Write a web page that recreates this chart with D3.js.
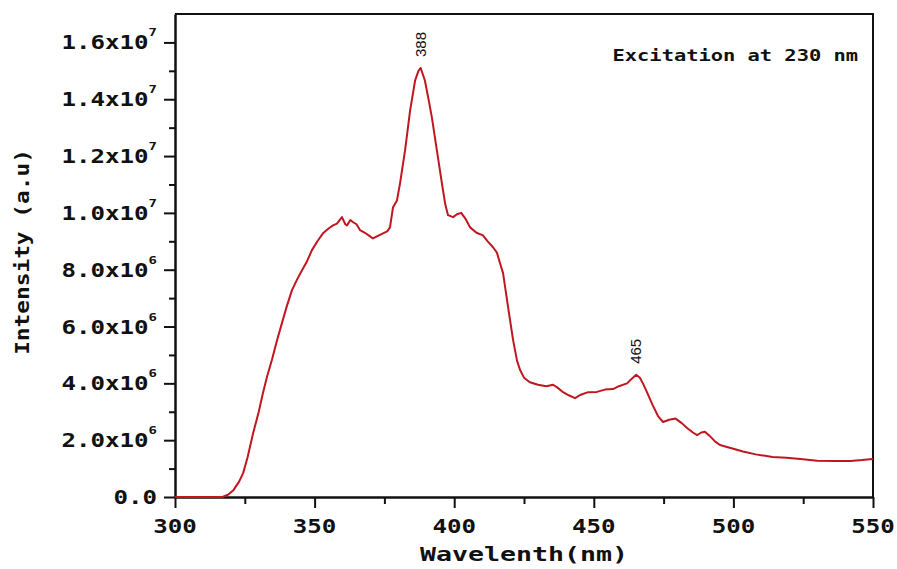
<!DOCTYPE html>
<html lang="en">
<head>
<meta charset="UTF-8">
<title>PL emission spectrum</title>
<script src="https://d3js.org/d3.v7.min.js"></script>
<style>
    body { margin: 0; background: #fff; }
    .mono { font-family: "DejaVu Sans Mono", monospace; font-weight: bold; fill: #111; }
    .peak { font-family: "Liberation Sans", Arial, sans-serif; font-size: 15px; fill: #111; }
    .axis path, .axis line { stroke: #111; }
</style>
</head>
<body>
<svg id="canvas" width="897" height="569"></svg>
<script>
// values
const wavelength = [300, 310, 317, 319, 321, 323, 324.4, 326, 328, 330, 331.5, 333, 334.7, 336.5, 338.3, 340, 341.9, 343.7, 345.5, 347.3,
    349, 351, 353, 355, 356.6, 358, 359.8, 361, 361.6, 362.8, 363.8, 365, 366.3, 368, 369.5, 370.9, 372.5, 374.5, 376, 377,
    378.1, 379.5, 380.6, 382.4, 384.2, 386, 387.2, 388, 389.5, 391, 392, 393.8, 395.6, 396.8, 397.8, 399.6, 401, 402.5, 404, 405.7,
    408, 410.3, 412, 413.9, 415.3, 416.5, 417.5, 419.3, 421.1, 422.5, 423.6, 425, 427.1, 430, 433, 435.4, 437, 439, 441, 443.3,
    445.1, 448, 451.1, 454, 456.9, 459, 461.9, 463.5, 465.2, 466.5, 467.6, 469, 471, 473, 474.8, 477, 479.3, 481.5, 483.4, 485.5,
    487, 488.5, 489.8, 491.5, 493.5, 495.2, 497.7, 500, 503.4, 508, 514, 519, 524, 530, 536, 542, 546, 550];
const intensity = [0, 0, 0, 0.08e6, 0.25e6, 0.55e6, 0.84e6, 1.4e6, 2.25e6, 3.0e6, 3.66e6, 4.25e6, 4.82e6, 5.5e6, 6.12e6, 6.7e6, 7.28e6, 7.65e6, 7.98e6, 8.3e6,
    8.68e6, 9.0e6, 9.28e6, 9.45e6, 9.56e6, 9.62e6, 9.85e6, 9.6e6, 9.56e6, 9.75e6, 9.67e6, 9.6e6, 9.39e6, 9.3e6, 9.2e6, 9.1e6, 9.18e6, 9.28e6, 9.35e6, 9.49e6,
    10.2e6, 10.44e6, 11.04e6, 12.2e6, 13.6e6, 14.66e6, 15.0e6, 15.1e6, 14.66e6, 13.9e6, 13.36e6, 12.2e6, 11.04e6, 10.3e6, 9.92e6, 9.85e6, 9.95e6, 10.0e6, 9.8e6, 9.49e6,
    9.3e6, 9.21e6, 9.0e6, 8.79e6, 8.6e6, 8.2e6, 7.88e6, 6.68e6, 5.52e6, 4.8e6, 4.47e6, 4.2e6, 4.04e6, 3.95e6, 3.9e6, 3.95e6, 3.85e6, 3.69e6, 3.58e6, 3.48e6,
    3.59e6, 3.69e6, 3.7e6, 3.78e6, 3.8e6, 3.9e6, 4.0e6, 4.15e6, 4.3e6, 4.2e6, 4.0e6, 3.7e6, 3.25e6, 2.85e6, 2.64e6, 2.72e6, 2.76e6, 2.6e6, 2.43e6, 2.27e6,
    2.18e6, 2.27e6, 2.3e6, 2.15e6, 1.95e6, 1.83e6, 1.76e6, 1.7e6, 1.6e6, 1.5e6, 1.41e6, 1.38e6, 1.34e6, 1.28e6, 1.27e6, 1.27e6, 1.3e6, 1.34e6];

const xTicks = [300, 350, 400, 450, 500, 550];
const xMinorTicks = [325, 375, 425, 475, 525];
const yTicks = [0, 2e6, 4e6, 6e6, 8e6, 1e7, 1.2e7, 1.4e7, 1.6e7];
const yMinorTicks = [1e6, 3e6, 5e6, 7e6, 9e6, 1.1e7, 1.3e7, 1.5e7];
const yTickBase = ["0.0", "2.0x10", "4.0x10", "6.0x10", "8.0x10", "1.0x10", "1.2x10", "1.4x10", "1.6x10"];
const yTickExp = ["", "6", "6", "6", "6", "7", "7", "7", "7"];
const peaks = [388, 465];
const note = "Excitation at 230 nm";
const xTitle = "Wavelenth(nm)";
const yTitle = "Intensity (a.u)";

let svg = d3.select("#canvas");
let mLeft = 175, mRight = 873, mTop = 14, mBottom = 497;

let xscale = d3.scaleLinear().domain([300, 550]).range([mLeft, mRight]);
let yscale = d3.scaleLinear().domain([0, 1.7e7]).range([mBottom, mTop]);

// frame (top and right sides)
svg.append("path")
    .attr("d", `M${mLeft},${mTop}H${mRight}V${mBottom}`)
    .attr("fill", "none").attr("stroke", "#111").attr("stroke-width", 2);

// minor ticks
svg.append("g").attr("class", "axis").attr("transform", `translate(0,${mBottom})`)
    .call(d3.axisBottom(xscale).tickValues(xMinorTicks).tickSize(7).tickFormat(""))
    .call(g => g.select(".domain").remove())
    .selectAll("line").attr("stroke-width", 2);
svg.append("g").attr("class", "axis").attr("transform", `translate(${mLeft},0)`)
    .call(d3.axisLeft(yscale).tickValues(yMinorTicks).tickSize(6).tickFormat(""))
    .call(g => g.select(".domain").remove())
    .selectAll("line").attr("stroke-width", 2);

// major ticks + axis lines
let xAxis = svg.append("g").attr("class", "axis").attr("transform", `translate(0,${mBottom})`)
    .call(d3.axisBottom(xscale).tickValues(xTicks).tickSize(11).tickSizeOuter(0).tickFormat(""));
let yAxis = svg.append("g").attr("class", "axis").attr("transform", `translate(${mLeft},0)`)
    .call(d3.axisLeft(yscale).tickValues(yTicks).tickSize(11).tickSizeOuter(0).tickFormat(""));
xAxis.selectAll("line").attr("stroke-width", 2);
yAxis.selectAll("line").attr("stroke-width", 2);
xAxis.select(".domain").attr("stroke-width", 2.5);
yAxis.select(".domain").attr("stroke-width", 2.5);

// x tick labels
svg.append("g").selectAll("text")
    .data(xTicks).enter().append("text")
    .attr("class", "mono").attr("font-size", 19)
    .attr("text-anchor", "middle")
    .attr("transform", d => `translate(${xscale(d)},${mBottom + 36}) scale(1.27,1)`)
    .text(d => d);

// y tick labels with superscript exponent
let ylab = svg.append("g").selectAll("text")
    .data(yTicks).enter().append("text")
    .attr("class", "mono").attr("font-size", 19)
    .attr("text-anchor", "end")
    .attr("transform", d => `translate(157,${yscale(d) + 7}) scale(1.27,1)`);
ylab.append("tspan").text((d, i) => yTickBase[i]);
ylab.append("tspan").attr("font-size", 11).attr("dy", -13).text((d, i) => yTickExp[i]);

// spectrum
let pts = wavelength.map((w, i) => ({x: w, y: intensity[i]}));
let line = d3.line().x(d => xscale(d.x)).y(d => yscale(d.y));
svg.append("path")
    .datum(pts)
    .attr("d", line)
    .attr("fill", "none")
    .attr("stroke", "#c0161f")
    .attr("stroke-width", 2)
    .attr("stroke-linejoin", "round");

// peak labels
peaks.forEach(p => {
    let near = pts.filter(d => Math.abs(d.x - p) <= 1.5);
    let yMax = d3.max(near, d => d.y);
    svg.append("text")
        .attr("class", "peak")
        .attr("transform", `translate(${xscale(p) + 5},${yscale(yMax) - 11}) rotate(-90)`)
        .text(p);
});

// note
svg.append("text")
    .attr("class", "mono").attr("font-size", 15)
    .attr("text-anchor", "end")
    .attr("transform", "translate(858,61) scale(1.36,1)")
    .text(note);

// axis titles
svg.append("text")
    .attr("class", "mono").attr("font-size", 19)
    .attr("text-anchor", "middle")
    .attr("transform", `translate(${(mLeft + mRight) / 2},561) scale(1.4,1)`)
    .text(xTitle);
svg.append("text")
    .attr("class", "mono").attr("font-size", 19)
    .attr("text-anchor", "middle")
    .attr("transform", "translate(29,252) rotate(-90) scale(1.2,1)")
    .text(yTitle);
</script>
</body>
</html>
